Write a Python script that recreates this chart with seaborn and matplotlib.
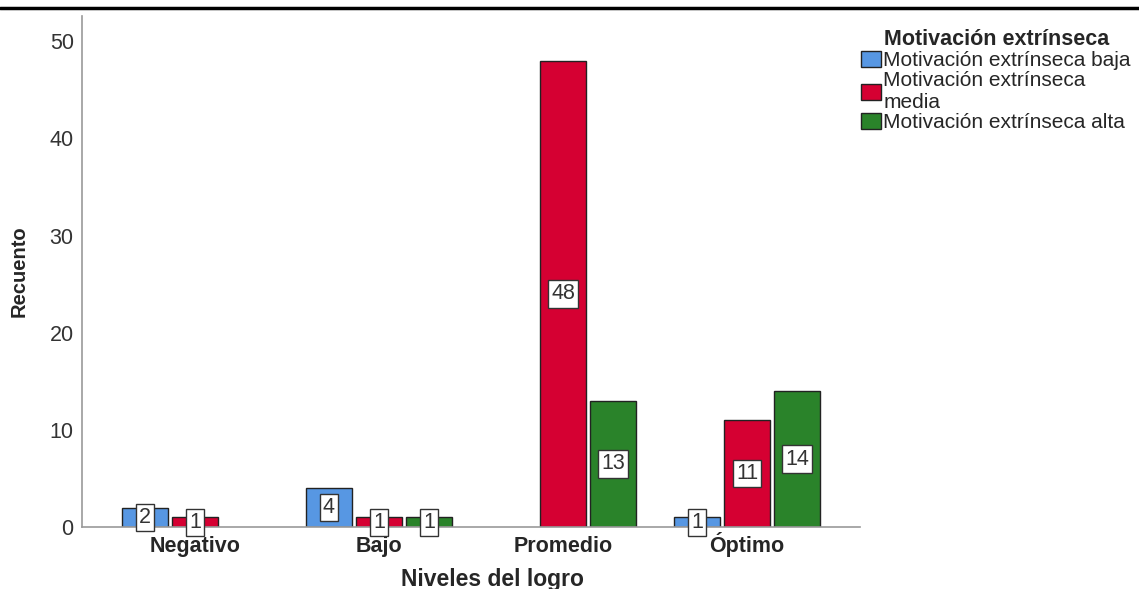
import pandas as pd
import seaborn as sns
import matplotlib.pyplot as plt
from matplotlib.lines import Line2D

niveles = ['Negativo', 'Bajo', 'Promedio', 'Óptimo']
motivacion = ['Motivación extrínseca baja', 'Motivación extrínseca media', 'Motivación extrínseca alta']
baja = [2, 4, None, 1]
media = [1, 1, 48, 11]
alta = [None, 1, 13, 14]
colores = ['#5797e3', '#d50032', '#2a832a']

rows = []
for nivel, b, m, a in zip(niveles, baja, media, alta):
    for mot, v in zip(motivacion, [b, m, a]):
        if v is not None:
            rows.append({'Niveles del logro': nivel, 'Motivación': mot, 'Recuento': v})
df = pd.DataFrame(rows)

sns.set_style('white')
plt.rcParams['font.family'] = ['Liberation Sans', 'DejaVu Sans']

fig = plt.figure(figsize=(11.39, 5.89), dpi=100)
ax = fig.add_axes([0.072, 0.105, 0.683, 0.868])

sns.barplot(data=df, x='Niveles del logro', y='Recuento', hue='Motivación',
            order=niveles, hue_order=motivacion, palette=colores,
            width=0.815, gap=0.08, edgecolor='#222222', linewidth=1,
            saturation=1, errorbar=None, ax=ax)

for cont in ax.containers:
    ax.bar_label(cont, label_type='center', fontsize=15.5, color='#333333',
                 bbox=dict(boxstyle='square,pad=0.15', fc='white', ec='#333333', lw=1))

ax.set_xlim(-0.614, 3.614)
ax.set_ylim(0, 52.6)
ax.set_yticks([0, 10, 20, 30, 40, 50])
ax.tick_params(axis='y', length=0, pad=6, labelsize=15.5, labelcolor='#333333')
ax.tick_params(axis='x', length=0, pad=18, labelsize=15.5)
for lab in ax.get_xticklabels():
    lab.set_fontweight('bold')
    lab.set_va('baseline')
ax.set_xlabel('Niveles del logro', fontsize=16.5, fontweight='bold')
ax.xaxis.set_label_coords(0.527, -0.079)
ax.set_ylabel('Recuento', fontsize=14.5, fontweight='bold', labelpad=15)
for s in ['top', 'right']:
    ax.spines[s].set_visible(False)
for s in ['left', 'bottom']:
    ax.spines[s].set_color('#999999')
    ax.spines[s].set_linewidth(1.2)

handles, _ = ax.get_legend_handles_labels()
ax.legend(handles, ['Motivación extrínseca baja', 'Motivación extrínseca\nmedia', 'Motivación extrínseca alta'],
          title='Motivación extrínseca', title_fontproperties={'weight': 'bold', 'size': 15.5},
          fontsize=15, frameon=False, loc='upper left', bbox_to_anchor=(0.749, 0.965),
          bbox_transform=fig.transFigure, handlelength=0.95, handleheight=0.8,
          handletextpad=0.1, labelspacing=0.05, borderaxespad=0)

fig.add_artist(Line2D([0, 1], [0.986, 0.986], color='black', lw=2.5, transform=fig.transFigure))

fig.savefig('out.png', dpi=100)
